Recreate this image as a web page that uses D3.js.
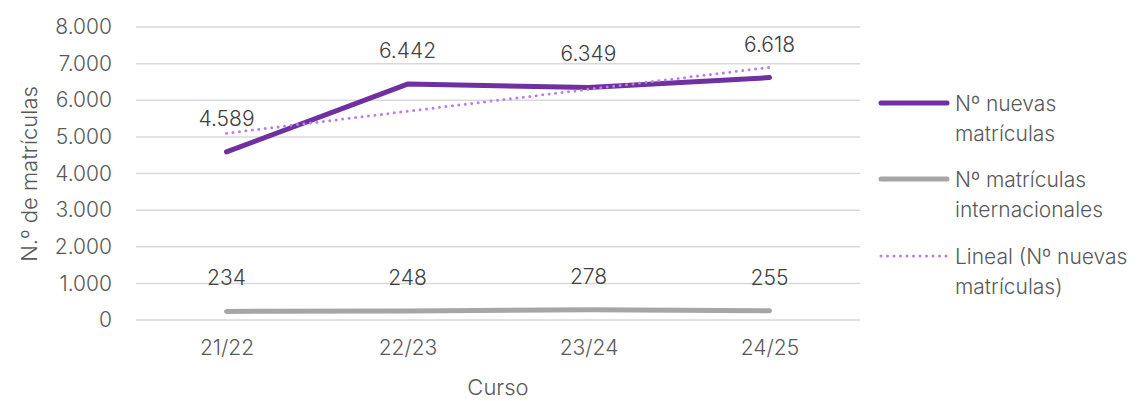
<!DOCTYPE html>
<html>
<head>
<meta charset="utf-8">
<script src="https://cdn.jsdelivr.net/npm/d3@7"></script>
<style>
  body { margin: 0; background: #fff; }
  text { font-family: Inter, "Open Sans", sans-serif; fill: #595959; font-weight: 300; }
</style>
</head>
<body>
<div id="chart"></div>
<script>
// data
var cursos = ["21/22", "22/23", "23/24", "24/25"];
var nuevas = [4589, 6442, 6349, 6618];
var internacionales = [234, 248, 278, 255];
var yTicks = [0, 1000, 2000, 3000, 4000, 5000, 6000, 7000, 8000];

var W = 1137, H = 401;
var margin = { top: 27, right: 277, bottom: 81, left: 136 },
    width = W - margin.left - margin.right,
    height = H - margin.top - margin.bottom;

var svg = d3.select("#chart").append("svg")
    .attr("width", W).attr("height", H);

var g = svg.append("g")
    .attr("transform", "translate(" + margin.left + "," + margin.top + ")");

var x = d3.scalePoint().domain(cursos).range([0, width]).padding(0.5);
var y = d3.scaleLinear().domain([0, 8000]).range([height, 0]);

var fmt = function(v){ return d3.format(",")(v).replace(/,/g, "."); };

// gridlines
g.selectAll(".grid").data(yTicks).enter().append("line")
    .attr("x1", 0).attr("x2", width)
    .attr("y1", function(d){ return y(d); }).attr("y2", function(d){ return y(d); })
    .attr("stroke", "#d9d9d9").attr("stroke-width", 1.5);

// y axis labels
var yAxis = g.append("g").call(d3.axisLeft(y).tickValues(yTicks).tickSize(0).tickPadding(24).tickFormat(fmt));
yAxis.select(".domain").remove();
yAxis.selectAll("text").attr("font-size", 21).attr("fill", "#595959")
    .style("font-family", "Inter, sans-serif").style("font-weight", 300);

// x axis labels
var xAxis = g.append("g").attr("transform", "translate(0," + height + ")")
    .call(d3.axisBottom(x).tickSize(0).tickPadding(20));
xAxis.select(".domain").remove();
xAxis.selectAll("text").attr("font-size", 21).attr("fill", "#595959")
    .style("font-family", "Inter, sans-serif").style("font-weight", 300);

// axis titles
svg.append("text").attr("x", margin.left + width / 2).attr("y", 395)
    .attr("text-anchor", "middle").attr("font-size", 22).text("Curso");
svg.append("text").attr("transform", "translate(37,174) rotate(-90)")
    .attr("text-anchor", "middle").attr("font-size", 22).text("N.º de matrículas");

// linear trendline (least squares on the nuevas series)
var xs = cursos.map(function(d, i){ return i + 1; });
var mx = d3.mean(xs), my = d3.mean(nuevas);
var slope = d3.sum(xs, function(v, i){ return (v - mx) * (nuevas[i] - my); }) /
            d3.sum(xs, function(v){ return (v - mx) * (v - mx); });
var trend = xs.map(function(v){ return my + slope * (v - mx); });

var line = d3.line()
    .x(function(d, i){ return x(cursos[i]); })
    .y(function(d){ return y(d); });

g.append("path").datum(internacionales).attr("d", line)
    .attr("fill", "none").attr("stroke", "#a6a6a6").attr("stroke-width", 5)
    .attr("stroke-linecap", "round").attr("stroke-linejoin", "round");

g.append("path").datum(nuevas).attr("d", line)
    .attr("fill", "none").attr("stroke", "#7030a0").attr("stroke-width", 5)
    .attr("stroke-linecap", "round").attr("stroke-linejoin", "round");

g.append("path").datum(trend).attr("d", line)
    .attr("fill", "none").attr("stroke", "#b77ff0").attr("stroke-width", 3)
    .attr("stroke-linecap", "round").attr("stroke-dasharray", "0,6.5");

// data labels
g.selectAll(".lblN").data(nuevas).enter().append("text")
    .attr("x", function(d, i){ return x(cursos[i]); })
    .attr("y", function(d){ return y(d) - 26; })
    .attr("text-anchor", "middle").attr("font-size", 21).style("fill", "#404040")
    .text(fmt);

g.selectAll(".lblI").data(internacionales).enter().append("text")
    .attr("x", function(d, i){ return x(cursos[i]); })
    .attr("y", function(d){ return y(d) - 26; })
    .attr("text-anchor", "middle").attr("font-size", 21).style("fill", "#404040")
    .text(fmt);

// legend
var legend = [
  { lines: ["Nº nuevas", "matrículas"], color: "#7030a0", w: 5, dash: null, y: 103 },
  { lines: ["Nº matrículas", "internacionales"], color: "#a6a6a6", w: 5, dash: null, y: 179 },
  { lines: ["Lineal (Nº nuevas", "matrículas)"], color: "#b77ff0", w: 3, dash: "0,6.5", y: 256 }
];
legend.forEach(function(l){
  svg.append("line").attr("x1", 881).attr("x2", 947).attr("y1", l.y).attr("y2", l.y)
    .attr("stroke", l.color).attr("stroke-width", l.w).attr("stroke-linecap", "round")
    .attr("stroke-dasharray", l.dash);
  l.lines.forEach(function(t, i){
    svg.append("text").attr("x", 955).attr("y", l.y + 8 + i * 30)
      .attr("font-size", 21).text(t);
  });
});
</script>
</body>
</html>
